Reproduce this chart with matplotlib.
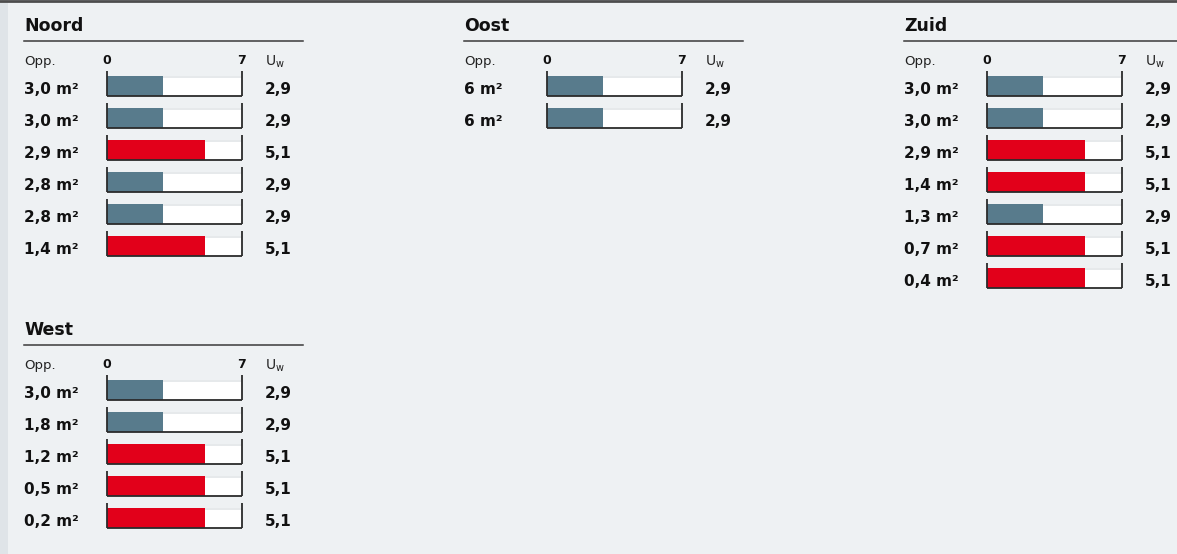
import numpy as np
import matplotlib
matplotlib.use('Agg')
import matplotlib.pyplot as plt
from matplotlib.patches import Rectangle

plt.rcParams['font.family'] = ['DejaVu Sans']

# data per orientation: area label and U_w value
noord_opp = ['3,0 m²', '3,0 m²', '2,9 m²', '2,8 m²', '2,8 m²', '1,4 m²']
noord_uw = [2.9, 2.9, 5.1, 2.9, 2.9, 5.1]
oost_opp = ['6 m²', '6 m²']
oost_uw = [2.9, 2.9]
zuid_opp = ['3,0 m²', '3,0 m²', '2,9 m²', '1,4 m²', '1,3 m²', '0,7 m²', '0,4 m²']
zuid_uw = [2.9, 2.9, 5.1, 5.1, 2.9, 5.1, 5.1]
west_opp = ['3,0 m²', '1,8 m²', '1,2 m²', '0,5 m²', '0,2 m²']
west_uw = [2.9, 2.9, 5.1, 5.1, 5.1]
scale_max = 7

W, H = 1177, 554
SLATE = '#587b8c'
RED = '#e2001a'
DARK = '#2b2b2b'

fig = plt.figure(figsize=(W / 100, H / 100), dpi=100)
fig.patch.set_facecolor('#eef1f3')
bg = fig.add_axes([0, 0, 1, 1])
bg.set_xlim(0, W)
bg.set_ylim(H, 0)
bg.axis('off')
bg.add_patch(Rectangle((0, 0), 8, H, color='#dfe4e8', lw=0))
bg.axhline(1, color='#4d4d4d', lw=2)


def panel(x0, y0, title, opp, uw):
    # header
    bg.text(x0, y0 + 1, title, fontsize=12.5, fontweight='bold', va='center', color='#111')
    bg.plot([x0, x0 + 279], [y0 + 16, y0 + 16], color='#3a3a3a', lw=1.1)
    bg.text(x0, y0 + 36, 'Opp.', fontsize=9.5, va='center', color='#222')
    bg.text(x0 + 83, y0 + 35, '0', fontsize=9, fontweight='bold', ha='center', va='center', color='#111')
    bg.text(x0 + 218, y0 + 35, str(scale_max), fontsize=9, fontweight='bold', ha='center', va='center', color='#111')
    bg.text(x0 + 241, y0 + 37, r'$\mathregular{U_w}$', fontsize=10, va='center', color='#222')

    n = len(opp)
    top = y0 + 61 - 16
    ax = fig.add_axes([(x0 + 83) / W, 1 - (top + 32 * n) / H, 135 / W, 32 * n / H])
    ax.set_xlim(0, scale_max)
    ax.set_ylim(n - 0.5, -0.5)
    ax.axis('off')
    y = np.arange(n)
    colors = [RED if v > 4 else SLATE for v in uw]
    ax.barh(y, scale_max, height=0.61, color='#e6e9eb', lw=0)
    ax.barh(y + 0.03, scale_max, height=0.55, color='white', lw=0)
    ax.barh(y, uw, height=0.61, color=colors, lw=0)
    ax.vlines([0] * n, y - 0.48, y + 0.32, color=DARK, lw=1.3, clip_on=False)
    ax.vlines([scale_max] * n, y - 0.48, y + 0.32, color=DARK, lw=1.3, clip_on=False)
    ax.hlines(y + 0.31, 0, scale_max, color=DARK, lw=1.3, clip_on=False)

    for i in range(n):
        yy = y0 + 64 + 32 * i
        bg.text(x0, yy, opp[i], fontsize=11, fontweight='bold', va='center', color='#111')
        bg.text(x0 + 241, yy, f'{uw[i]:.1f}'.replace('.', ','), fontsize=11,
                fontweight='bold', va='center', color='#111')


panel(24, 25, 'Noord', noord_opp, noord_uw)
panel(464, 25, 'Oost', oost_opp, oost_uw)
panel(904, 25, 'Zuid', zuid_opp, zuid_uw)
panel(24, 329, 'West', west_opp, west_uw)

fig.savefig('out.png', dpi=100, facecolor=fig.get_facecolor())
